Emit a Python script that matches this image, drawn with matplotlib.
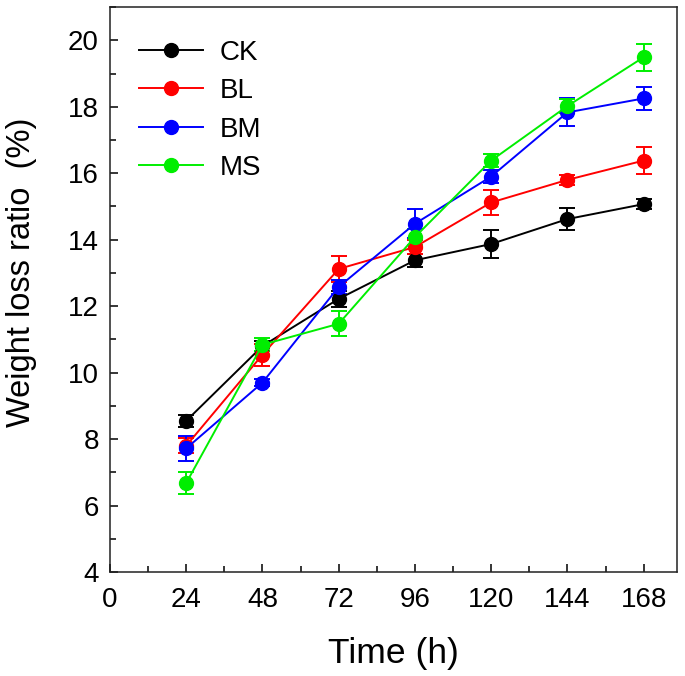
import matplotlib
matplotlib.use("Agg")
import matplotlib.pyplot as plt
from matplotlib.lines import Line2D
from matplotlib.ticker import MultipleLocator

plt.rcParams['font.family'] = ['Liberation Sans', 'DejaVu Sans']

time_h = [24, 48, 72, 96, 120, 144, 168]
series_names = ["CK", "BL", "BM", "MS"]
colors = ["#000000", "#ff0000", "#0000ff", "#00ee00"]

ck = [8.55, 10.80, 12.22, 13.38, 13.87, 14.62, 15.07]
bl = [7.80, 10.54, 13.12, 13.78, 15.12, 15.80, 16.38]
bm = [7.72, 9.70, 12.58, 14.48, 15.90, 17.83, 18.25]
ms = [6.68, 10.84, 11.47, 14.08, 16.38, 18.02, 19.49]

ck_err = [0.18, 0.15, 0.25, 0.20, 0.42, 0.33, 0.15]
bl_err = [0.22, 0.33, 0.40, 0.20, 0.38, 0.15, 0.40]
bm_err = [0.37, 0.10, 0.20, 0.43, 0.20, 0.42, 0.34]
ms_err = [0.33, 0.20, 0.38, 0.25, 0.20, 0.20, 0.40]

values = [ck, bl, bm, ms]
errors = [ck_err, bl_err, bm_err, ms_err]

fig = plt.figure(figsize=(6.85, 6.76), dpi=100)
ax = fig.add_axes([0.1606, 0.1538, 0.8277, 0.8358])

handles = []
for name, c, v, e in zip(series_names, colors, values, errors):
    ax.errorbar(time_h, v, yerr=e, color=c, marker='o', markersize=10,
                linewidth=1.4, elinewidth=1.4, capsize=5.5, capthick=1.4)
    handles.append(Line2D([0], [0], color=c, marker='o', markersize=10,
                          linewidth=1.4, label=name))

ax.set_xlim(0, 178.5)
ax.set_ylim(4, 21)
ax.xaxis.set_major_locator(MultipleLocator(24))
ax.xaxis.set_minor_locator(MultipleLocator(12))
ax.yaxis.set_minor_locator(MultipleLocator(1))
ax.set_yticks([4, 6, 8, 10, 12, 14, 16, 18, 20])

ax.tick_params(which='both', direction='in', top=False, right=False,
               width=1.1, labelsize=20)
ax.tick_params(which='major', length=6)
ax.tick_params(which='minor', length=4)
ax.tick_params(axis='x', pad=11)
ax.tick_params(axis='y', pad=8)
for s in ax.spines.values():
    s.set_linewidth(1.1)
    s.set_color('#222222')

ax.set_xlabel("Time (h)", fontsize=25.5, labelpad=17)
ax.set_ylabel("Weight loss ratio  (%)", fontsize=23.5)
ax.yaxis.set_label_coords(-0.129, 0.53)

ax.legend(handles=handles, loc='upper left', frameon=False, fontsize=20,
          handlelength=2.3, handletextpad=0.6, labelspacing=0.45,
          bbox_to_anchor=(0.0317, 0.962), borderaxespad=0.0)

fig.savefig("out.png", dpi=100)
